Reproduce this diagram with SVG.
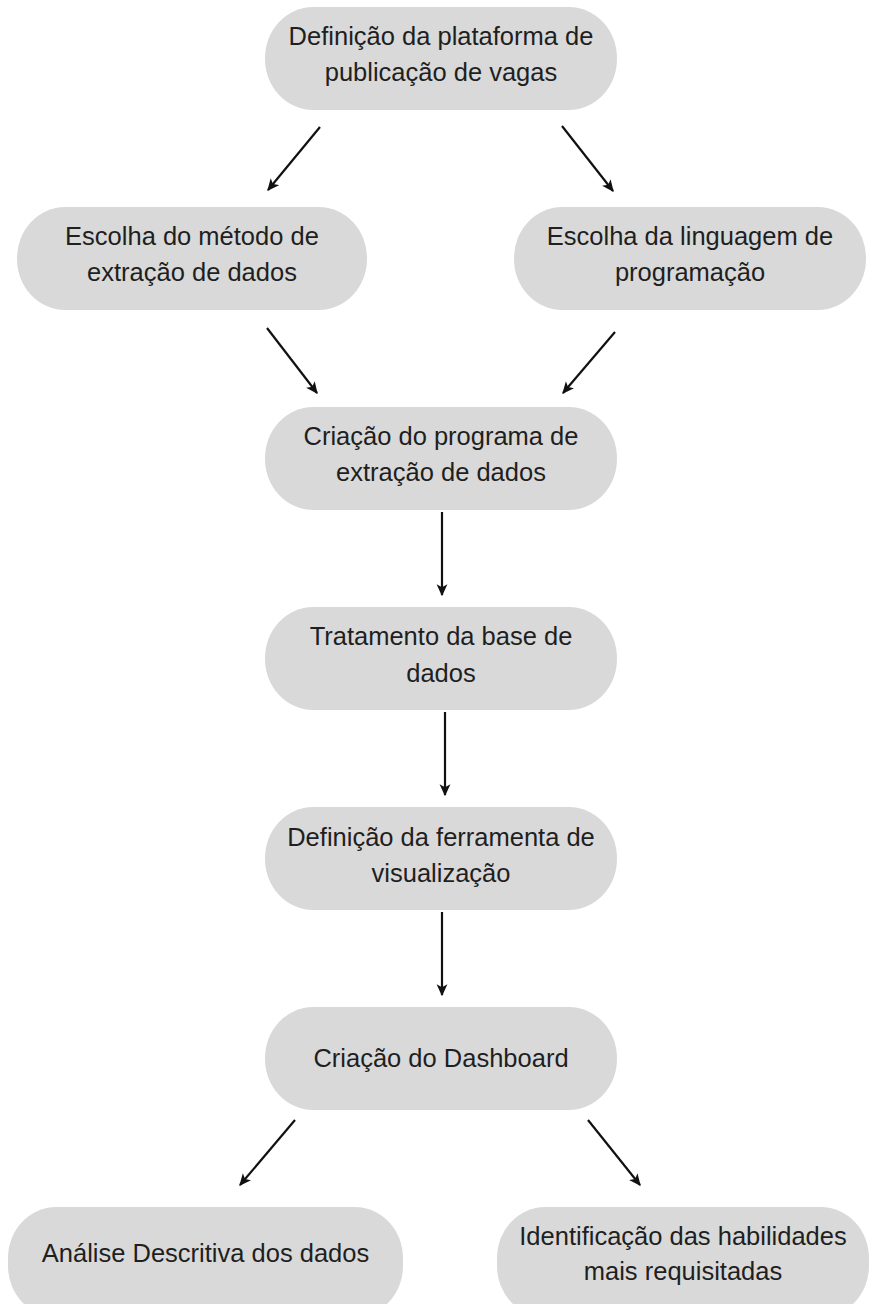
<svg xmlns="http://www.w3.org/2000/svg" width="871" height="1304" viewBox="0 0 871 1304">
<style>
.node rect{fill:#d9d9d9;}
.node text{font-family:"Liberation Sans",Arial,sans-serif;font-size:25.5px;fill:#1f1f1f;text-anchor:middle;}
.conn line{stroke:#111;stroke-width:2.2;marker-end:url(#ah);}
</style>
<defs>
<marker id="ah" markerUnits="userSpaceOnUse" markerWidth="12" markerHeight="12" viewBox="0 0 10 10" refX="9" refY="5" orient="auto">
<path d="M0,0.5 L10,5 L0,9.5 L2.5,5 z" fill="#111"/>
</marker>
</defs>
<rect width="871" height="1304" fill="#fff"/>
<g id="n1" class="node"><rect x="265" y="7" width="352" height="103" rx="48" ry="51"/><text x="441" y="45">Definição da plataforma de</text><text x="441" y="81">publicação de vagas</text></g>
<g id="n2" class="node"><rect x="17" y="207" width="350" height="103" rx="48" ry="51"/><text x="192" y="245">Escolha do método de</text><text x="192" y="281">extração de dados</text></g>
<g id="n3" class="node"><rect x="514" y="207" width="352" height="103" rx="48" ry="51"/><text x="690" y="245">Escolha da linguagem de</text><text x="690" y="281">programação</text></g>
<g id="n4" class="node"><rect x="265" y="407" width="352" height="103" rx="48" ry="51"/><text x="441" y="445">Criação do programa de</text><text x="441" y="481">extração de dados</text></g>
<g id="n5" class="node"><rect x="265" y="607" width="352" height="103" rx="48" ry="51"/><text x="441" y="645">Tratamento da base de</text><text x="441" y="682">dados</text></g>
<g id="n6" class="node"><rect x="265" y="807" width="352" height="103" rx="48" ry="51"/><text x="441" y="846">Definição da ferramenta de</text><text x="441" y="882">visualização</text></g>
<g id="n7" class="node"><rect x="265" y="1007" width="352" height="103" rx="48" ry="51"/><text x="441" y="1067">Criação do Dashboard</text></g>
<g id="n8" class="node"><rect x="8" y="1207" width="395" height="110" rx="48" ry="51"/><text x="205.5" y="1262">Análise Descritiva dos dados</text></g>
<g id="n9" class="node"><rect x="497" y="1207" width="372" height="110" rx="48" ry="51"/><text x="683" y="1245">Identificação das habilidades</text><text x="683" y="1280">mais requisitadas</text></g>
<g id="connectors" class="conn">
<line x1="320" y1="127" x2="268" y2="190"/>
<line x1="562" y1="126" x2="613" y2="191"/>
<line x1="267" y1="328" x2="317" y2="393"/>
<line x1="615" y1="332" x2="563" y2="393"/>
<line x1="442" y1="512" x2="442" y2="595"/>
<line x1="445" y1="712" x2="445" y2="795"/>
<line x1="442" y1="912" x2="442" y2="995"/>
<line x1="295" y1="1120" x2="240" y2="1185"/>
<line x1="588" y1="1120" x2="640" y2="1185"/>
</g>
</svg>
